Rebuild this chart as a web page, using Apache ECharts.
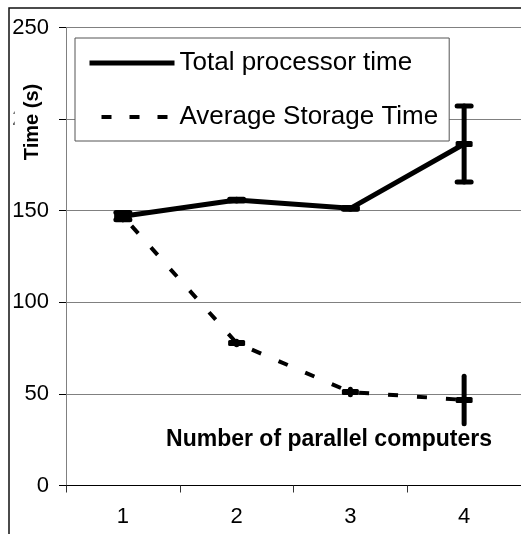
<!DOCTYPE html>
<html>
<head>
<meta charset="utf-8">
<script src="https://cdn.jsdelivr.net/npm/echarts@6/dist/echarts.min.js"></script>
<style>
html,body{margin:0;padding:0;background:#fff;}
#chart{width:521px;height:534px;}
</style>
</head>
<body>
<div id="chart"></div>
<script>
const categories = ['1', '2', '3', '4'];
const totalTime = [147, 155.8, 151.3, 186.4];
const totalErr = [2, 0.5, 0.5, 20.7];
const storageTime = [147, 77.8, 51, 46.7];
const storageErr = [2, 1, 1.5, 13];
const yMin = 0, yMax = 250, yStep = 50;
const seriesNames = ['Total processor time', 'Average Storage Time'];
const yTitle = 'Time (s)';
const xTitle = 'Number of parallel computers';

const FONT = "'Liberation Sans', Arial, sans-serif";

function errData(vals, errs) {
  return vals.map((v, i) => [i, v, errs[i]]);
}
function errRender(withCaps) {
  return function (params, api) {
    const x = api.value(0), v = api.value(1), e = api.value(2);
    const top = api.coord([x, v + e]);
    const bot = api.coord([x, v - e]);
    const mid = api.coord([x, v]);
    const st = { stroke: '#000', lineWidth: 5, lineCap: 'round' };
    const children = [
      { type: 'line', shape: { x1: top[0], y1: top[1], x2: bot[0], y2: bot[1] }, style: st }
    ];
    if (withCaps) {
      children.push({ type: 'line', shape: { x1: top[0] - 7, y1: top[1], x2: top[0] + 7, y2: top[1] }, style: st });
      children.push({ type: 'line', shape: { x1: bot[0] - 7, y1: bot[1], x2: bot[0] + 7, y2: bot[1] }, style: st });
    }
    children.push({ type: 'rect', shape: { x: mid[0] - 8.5, y: mid[1] - 3, width: 17, height: 6, r: 1.5 }, style: { fill: '#000' } });
    return { type: 'group', children };
  };
}

const chart = echarts.init(document.getElementById('chart'), null, { renderer: 'canvas' });
chart.setOption({
  animation: false,
  backgroundColor: '#fff',
  grid: { left: 66, right: -3, top: 27.5, bottom: 48.5, containLabel: false },
  legend: {
    data: [
      { name: seriesNames[0], lineStyle: { width: 5, color: '#000', type: 'solid' }, itemStyle: { opacity: 0 } },
      { name: seriesNames[1], lineStyle: { width: 4, color: '#000', type: [10, 18] }, itemStyle: { opacity: 0 } }
    ],
    orient: 'vertical',
    left: 75, top: 38,
    itemWidth: 85, itemHeight: 26, itemGap: 28,
    padding: [12, 11, 11, 12],
    backgroundColor: '#fff',
    borderColor: '#555', borderWidth: 1,
    textStyle: { fontSize: 26, color: '#000', fontFamily: FONT },
    z: 10
  },
  xAxis: {
    type: 'category',
    data: categories,
    boundaryGap: true,
    axisLine: { lineStyle: { color: '#000', width: 1 } },
    axisTick: { show: true, length: 7, lineStyle: { color: '#333' } },
    axisLabel: { fontSize: 22, color: '#000', fontFamily: FONT, margin: 20 },
    splitLine: { show: false }
  },
  yAxis: {
    type: 'value',
    min: yMin, max: yMax, interval: yStep,
    axisLine: { show: true, lineStyle: { color: '#808080', width: 1 } },
    axisTick: { show: true, length: 7, lineStyle: { color: '#000' } },
    axisLabel: { fontSize: 22, color: '#000', fontFamily: FONT, margin: 17 },
    splitLine: { show: true, lineStyle: { color: '#808080', width: 1 } }
  },
  graphic: [
    { type: 'rect', z: 0, silent: true, shape: { x: 9, y: 8, width: 1000, height: 1000 }, style: { fill: 'none', stroke: '#111', lineWidth: 1.5 } },
    { type: 'text', z: 100, x: 32, y: 122, rotation: Math.PI / 2,
      style: { text: yTitle, font: "bold 20px 'Liberation Sans', Arial, sans-serif", fill: '#000', align: 'center', verticalAlign: 'middle', backgroundColor: '#fff', padding: [6, 4, 9, 4] } },
    { type: 'text', z: 100, x: 329, y: 440,
      style: { text: xTitle, font: "bold 23px 'Liberation Sans', Arial, sans-serif", fill: '#000', align: 'center', verticalAlign: 'middle' } }
  ],
  series: [
    {
      name: seriesNames[1], type: 'line', data: storageTime, symbol: 'none',
      lineStyle: { color: '#000', width: 4, type: [10, 19], dashOffset: 16 },
      itemStyle: { color: '#000' }, z: 2
    },
    {
      name: seriesNames[0], type: 'line', data: totalTime, symbol: 'none',
      lineStyle: { color: '#000', width: 5 },
      itemStyle: { color: '#000' }, z: 3
    },
    { name: 'storageErr', type: 'custom', data: errData(storageTime, storageErr), renderItem: errRender(false), encode: { x: 0, y: 1 }, z: 4 },
    { name: 'totalErr', type: 'custom', data: errData(totalTime, totalErr), renderItem: errRender(true), encode: { x: 0, y: 1 }, z: 5 }
  ]
});
</script>
</body>
</html>
